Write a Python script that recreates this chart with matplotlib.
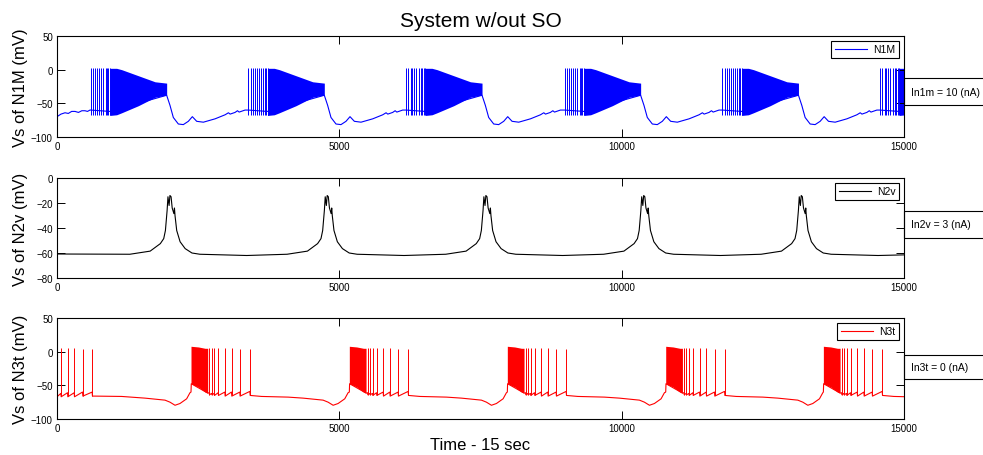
import matplotlib
matplotlib.use("Agg")
import matplotlib.pyplot as plt
from matplotlib.patches import Rectangle

plt.rcParams["font.family"] = ["Liberation Sans", "DejaVu Sans"]

T_END = 15000
X_TICKS = [0, 5000, 10000, 15000]

# ---- N1M (blue): bursting cell, values in ms / mV
n1m_onsets = [596, 3388, 6181, 8990, 11785, 14575]
# trace before the first burst
n1m_start_t = [0, 70, 142, 200, 260, 319, 380, 440, 496, 540, 584]
n1m_start_v = [-69.8, -66, -64, -65, -62, -62, -63.5, -61, -61, -62, -60]
# isolated spikes at the start of every burst (ms after onset)
n1m_lead_spikes = [0, 40, 80, 110, 150, 185, 225, 265, 290, 310, 340]
n1m_lead_lo, n1m_lead_hi = -68, 2
# envelope of the dense firing (ms after onset)
n1m_band_t = [340, 460, 550, 845, 1140, 1346]
n1m_band_hi = [2, 2, 0, -9, -18, -20]
n1m_band_lo = [-68, -67, -64, -53.5, -41, -37.6]
# slow trace of one cycle (ms after onset)
n1m_cycle_t = [0, 340, 1346, 1405, 1464, 1553, 1641, 1730, 1801, 1878, 1996,
               2204, 2381, 2440, 2470, 2557, 2600, 2630, 2734]
n1m_cycle_v = [-60, -62, -38, -53, -71, -80.7, -81.6, -76.7, -69.8, -76.7, -78,
               -73, -67, -64, -66, -63.5, -61, -63, -60]

# ---- N2v (black): one slow depolarising wave per cycle
n2v_peaks = [2010, 4795, 7605, 10400, 13190]
n2v_start_t, n2v_start_v = [0], [-60.8]
n2v_end_t, n2v_end_v = [T_END], [-61.5]
# shape around every peak (ms from peak)
n2v_wave_t = [-720, -360, -180, -120, -90, -60, -45, -25, -10, 10, 30, 60, 70,
              80, 110, 170, 260, 380, 520, 1350]
n2v_wave_v = [-61, -58.5, -52.5, -48.5, -42, -26, -15, -22, -14, -15, -24, -28.5,
              -24, -30, -42, -51, -56.5, -60, -61, -62]

# ---- N3t (red): tonic spikes, then rebound bursts
n3t_onsets = [2373, 5177, 7975, 10780, 13572]
n3t_start_spikes = [71, 189, 307, 455, 625]
n3t_start_tops = [5, 5, 5, 4, 4]
n3t_start_t = [0, 68, 74, 186, 192, 304, 310, 452, 458, 622, 628, 673, 1145,
               1558, 1913, 2001, 2090, 2178, 2296, 2355]
n3t_start_v = [-67, -62, -67, -61, -67, -61, -67, -60, -66, -60, -66, -66, -66.5,
               -69, -72, -75, -79.6, -77, -70, -61]
# dense firing right after onset (ms after onset)
n3t_band_t = [0, 130, 250, 296]
n3t_band_hi = [8, 7, 5, 5]
n3t_band_lo = [-47.6, -52.5, -60, -61.5]
# spikes trailing the burst (ms after onset)
n3t_spikes = [325, 367, 413, 484, 602, 720, 867, 1045]
n3t_spike_tops = [5, 5, 5, 5, 5, 5, 4, 4]
# slow trace of one cycle (ms after onset)
n3t_cycle_t = [0, 5, 296, 322, 328, 364, 370, 410, 416, 481, 487, 599, 605, 717,
               723, 864, 870, 1042, 1048, 1250, 1720, 1985, 2340, 2428, 2517,
               2605, 2723, 2782]
n3t_cycle_v = [-60, -47.6, -61.5, -61, -64, -62, -64, -62, -65, -61, -65, -60,
               -66, -60, -66, -60, -66, -59, -65, -66.5, -67.5, -69, -72, -75,
               -79.6, -77, -70, -61]


def shift(ts, t0):
    return [t0 + t for t in ts]


def style_axes(ax, ylim, yticks, ylabel):
    ax.set_xlim(0, T_END)
    ax.set_ylim(*ylim)
    ax.set_xticks(X_TICKS)
    ax.set_yticks(yticks)
    ax.tick_params(direction="in", length=5.5, width=0.7, top=True, right=True,
                   labelsize=7, pad=3)
    for s in ax.spines.values():
        s.set_linewidth(0.8)
    ax.set_ylabel(ylabel, fontsize=12)
    ax.yaxis.set_label_coords(-0.034, 0.5)


def add_legend(ax):
    ax.legend(loc="upper right", fontsize=7.5, fancybox=False, edgecolor="black",
              framealpha=1, handlelength=3.1, handletextpad=0.6, borderpad=0.35,
              borderaxespad=0.45).get_frame().set_linewidth(0.8)


def side_box(fig, y_top, y_bot, text):
    h = (y_bot - y_top) / 456
    fig.add_artist(Rectangle((904 / 983, 1 - y_bot / 456), 0.2, h,
                             transform=fig.transFigure, fill=False, lw=0.8,
                             clip_on=False))
    fig.text(911 / 983, 1 - (y_top + y_bot) / 2 / 456, text, fontsize=7.5,
             va="center", ha="left")


fig = plt.figure(figsize=(9.83, 4.56), dpi=100)
ax1 = fig.add_axes([57 / 983, 1 - 138 / 456, 847 / 983, 101 / 456])
ax2 = fig.add_axes([57 / 983, 1 - 279 / 456, 847 / 983, 100 / 456])
ax3 = fig.add_axes([57 / 983, 1 - 420 / 456, 847 / 983, 101 / 456])

# N1M
blue = "#0000ff"
t1, v1 = list(n1m_start_t), list(n1m_start_v)
for t0 in n1m_onsets:
    t1 += shift(n1m_cycle_t, t0)
    v1 += n1m_cycle_v
    ax1.vlines(shift(n1m_lead_spikes, t0), n1m_lead_lo, n1m_lead_hi, color=blue, lw=0.7)
    ax1.fill_between(shift(n1m_band_t, t0), n1m_band_lo, n1m_band_hi, color=blue, lw=0)
ax1.plot(t1, v1, color=blue, lw=0.8, label="N1M")
style_axes(ax1, (-100, 50), [-100, -50, 0, 50], "Vs of N1M (mV)")
add_legend(ax1)
ax1.set_title("System w/out SO", fontsize=15, pad=7)

# N2v
t2, v2 = list(n2v_start_t), list(n2v_start_v)
for tp in n2v_peaks:
    t2 += shift(n2v_wave_t, tp)
    v2 += n2v_wave_v
t2 += n2v_end_t
v2 += n2v_end_v
ax2.plot(t2, v2, color="black", lw=0.8, label="N2v")
style_axes(ax2, (-80, 0), [-80, -60, -40, -20, 0], "Vs of N2v (mV)")
add_legend(ax2)

# N3t
red = "#ff0000"
t3, v3 = list(n3t_start_t), list(n3t_start_v)
ax3.vlines(n3t_start_spikes, -66, n3t_start_tops, color=red, lw=0.7)
for t0 in n3t_onsets:
    t3 += shift(n3t_cycle_t, t0)
    v3 += n3t_cycle_v
    ax3.vlines(shift(n3t_spikes, t0), -64, n3t_spike_tops, color=red, lw=0.7)
    ax3.fill_between(shift(n3t_band_t, t0), n3t_band_lo, n3t_band_hi, color=red, lw=0)
ax3.plot(t3, v3, color=red, lw=0.8, label="N3t")
style_axes(ax3, (-100, 50), [-100, -50, 0, 50], "Vs of N3t (mV)")
add_legend(ax3)
ax3.set_xlabel("Time - 15 sec", fontsize=12, va="top")
ax3.xaxis.set_label_coords(0.5, -0.18)

side_box(fig, 79, 106, "In1m = 10 (nA)")
side_box(fig, 212, 239, "In2v = 3 (nA)")
side_box(fig, 356, 380, "In3t = 0 (nA)")

fig.savefig("out.png", dpi=100)
